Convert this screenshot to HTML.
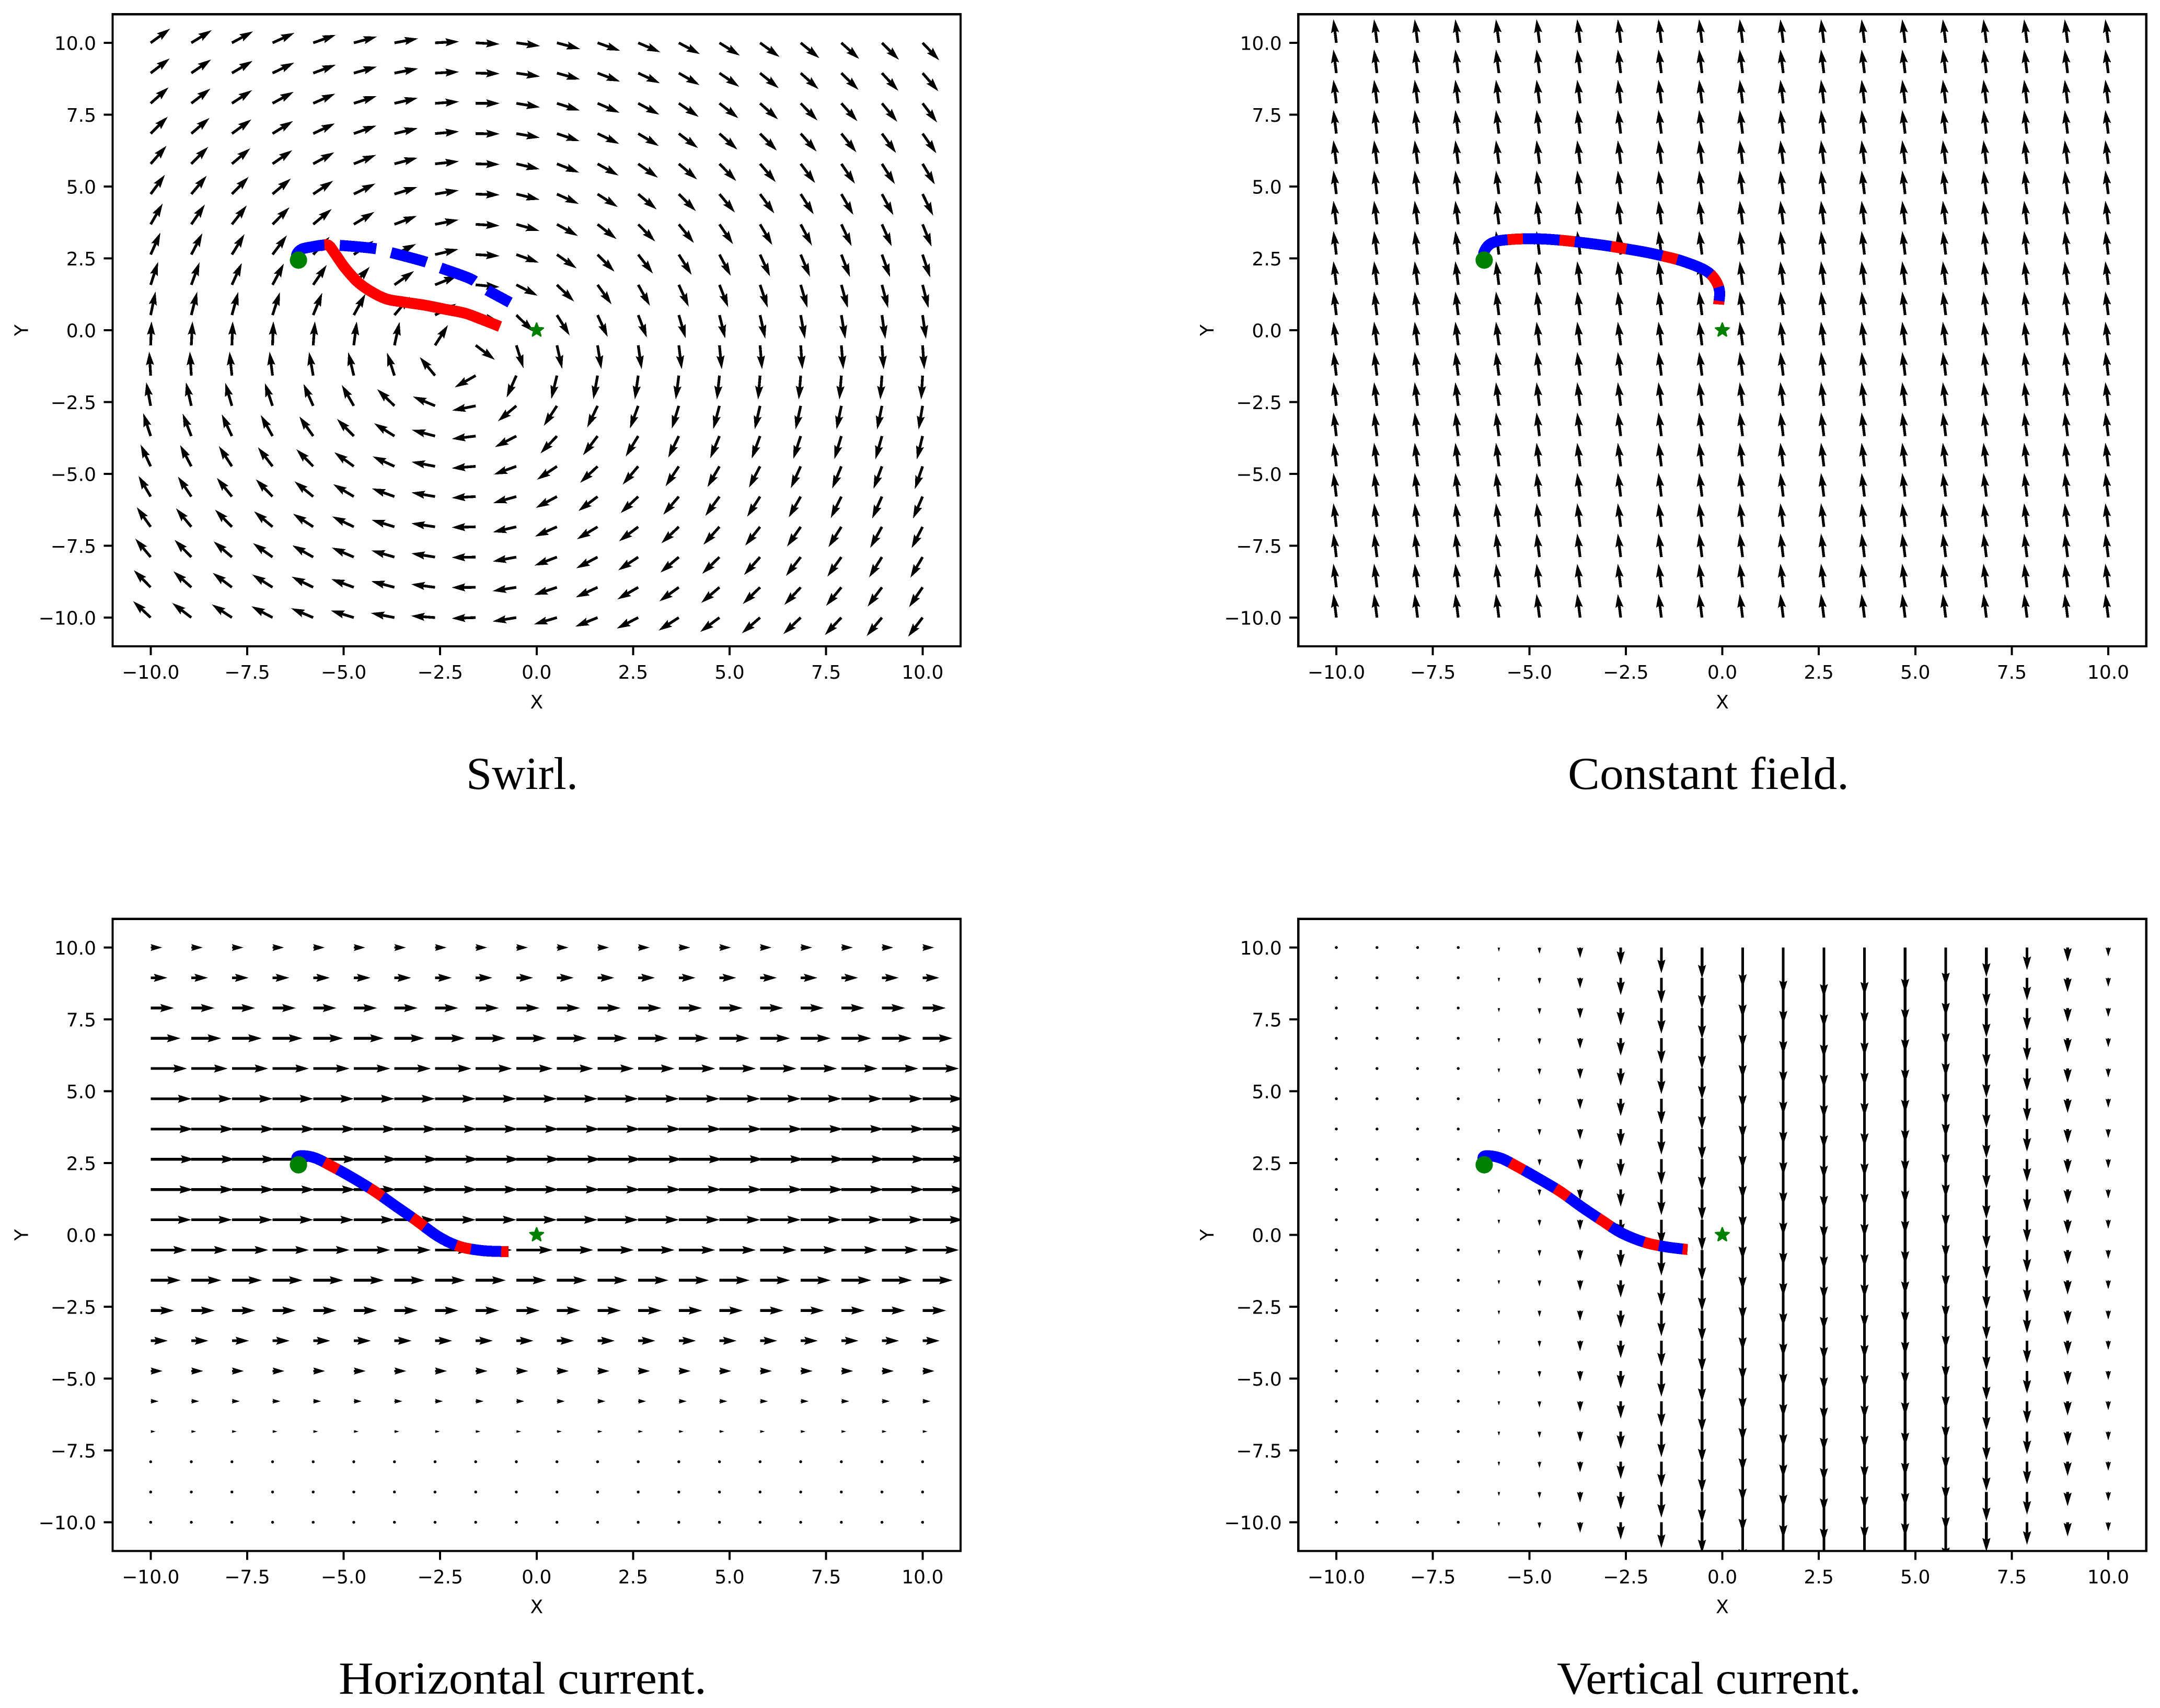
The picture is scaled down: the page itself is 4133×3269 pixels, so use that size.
<!DOCTYPE html>
<html lang="en">
<head>
<meta charset="utf-8">
<title>Trajectories in four flow fields</title>
<style>
html,body{margin:0;padding:0;background:#fff;}
svg{display:block;shape-rendering:crispEdges;}
.tick{font-family:"DejaVu Sans",sans-serif;font-size:36px;fill:#000;}
.caption{font-family:"Liberation Serif",serif;font-size:88px;fill:#000;}
</style>
</head>
<body>
<svg id="figure" xmlns="http://www.w3.org/2000/svg" width="4133" height="3269" viewBox="0 0 4133 3269">
<rect x="0" y="0" width="4133" height="3269" fill="#fff"/>
</svg>
<script>
// ---- shared axis data ----
const tickValues = [-10, -7.5, -5, -2.5, 0, 2.5, 5, 7.5, 10];
const tickLabels = ['\u221210.0', '\u22127.5', '\u22125.0', '\u22122.5', '0.0', '2.5', '5.0', '7.5', '10.0'];
const gridXCoords = [-10, -8.947, -7.895, -6.842, -5.789, -4.737, -3.684, -2.632, -1.579, -0.526, 0.526, 1.579, 2.632, 3.684, 4.737, 5.789, 6.842, 7.895, 8.947, 10];
const gridYCoords = [10, 8.947, 7.895, 6.842, 5.789, 4.737, 3.684, 2.632, 1.579, 0.526, -0.526, -1.579, -2.632, -3.684, -4.737, -5.789, -6.842, -7.895, -8.947, -10];

// ---- swirl field: arrow heading in degrees, rows from y=10 down to y=-10 ----
const swirlSpeed = 1.15;
const swirlAngles = [
[36,31.7,28.4,24.5,19.4,15,10.4,3,-3,-7.6,-14.8,-19.3,-22.9,-28,-32,-36,-39.4,-42,-44.8,-46.3],
[37.6,34.6,30.6,25.8,20.3,15.7,11,3,-1.3,-8.2,-15.3,-20.7,-25,-30,-34.6,-39,-42,-44.4,-47.3,-49],
[41.7,37.6,33.1,28.6,23.7,17.5,12.9,4,0,-9.5,-17.4,-23.1,-28.1,-34.2,-38.1,-41.7,-45.6,-48,-50.2,-52.8],
[44.7,40.7,36,31.5,25.2,19.4,12.9,5,-0.6,-9.8,-18.4,-25.4,-31,-37,-41.7,-45.4,-48.4,-51.2,-53.9,-55],
[48.7,45.2,40.2,34.6,28.6,21.8,14.7,6,-1.3,-12.9,-21.4,-29,-35,-40.4,-45.6,-49.2,-53,-55.5,-57.4,-59.2],
[53.5,50,45.7,40.2,33.6,26,17,9,-1.9,-13.5,-24.2,-32.6,-39.7,-44.9,-50,-53.6,-57.2,-59.9,-61.5,-63.8],
[60,55.6,51.8,45.2,39.7,31,20.6,11,-3.3,-15.7,-29,-37.8,-45.3,-50.9,-55.6,-59.4,-62.2,-64.6,-66,-68],
[66.1,62.5,58.4,53.3,47.3,35,26,13,-3.3,-19.7,-35,-45.3,-52.3,-57.7,-62,-65.4,-67.2,-68.8,-70.1,-71.5],
[72.1,69.9,65.6,61.9,55.8,48.6,35,22,-5.3,-26.9,-44.2,-54.4,-60.8,-65.6,-68.7,-71.4,-73.5,-74.4,-75,-75.7],
[78.3,75.9,74.6,72.2,67.9,61.1,50,28,-15,-44,-58,-65.2,-69,-73.5,-76.2,-77.5,-79.8,-80.4,-81.8,-81.8],
[88,87.2,88,88,85.8,83,77.6,57.5,-37,-72.5,-77.4,-81,-81.8,-83,-84.5,-85.2,-85.9,-85.2,-85.9,-85.9],
[93.5,93.5,95.7,97.1,99.9,103.4,107.9,129.6,-150.6,-113.9,-103.6,-100.2,-98,-97.3,-96,-94.7,-94.6,-94.6,-94,-93.3],
[100.6,102.8,106.2,108.7,113.8,119.9,136,157.1,-168.8,-140.1,-123.3,-115.6,-110.1,-107.2,-104.9,-102.9,-102.3,-101.6,-101.6,-99.6],
[108,111.1,115,119.3,125.3,134.5,147.8,165,-173.2,-152.7,-133.6,-127.2,-121.5,-116.2,-112.6,-110.4,-108,-106.8,-105.5,-103.8],
[114.9,117.8,122.8,127.6,134.6,144.2,155.5,169.2,-175.5,-160,-146.2,-136.7,-130.4,-123.6,-120.1,-117.6,-114.4,-112.4,-110.6,-108.7],
[120.4,123.8,129,134,140.9,149.1,160.2,170.2,-177,-164.3,-151.9,-143,-136.9,-130.7,-126.1,-122.6,-119.9,-116.2,-114,-113.5],
[125.3,129.6,134.5,140.1,147,154.3,163,171.6,-178.5,-167.1,-156.2,-149,-143,-136.7,-131.9,-128.3,-124.7,-122.3,-119.2,-117.3],
[129.8,134.1,139.4,144.6,150.6,156.7,163.9,171.1,-179,-169.5,-159.3,-152.2,-146.5,-140,-136,-131.8,-127.9,-125.6,-122.3,-120.6],
[134.5,138.2,143,147.8,153.7,159.9,165.2,172.6,-179.5,-171,-161.6,-155.2,-150,-144.2,-139.6,-136,-133,-129.4,-126.7,-124.3],
[137,142.6,146.7,151.9,157.1,163,169,176,-178,-170.6,-163.4,-157.9,-152.8,-147.3,-143.4,-139.2,-136.5,-133.3,-129.7,-127.2]
];

// ---- constant field ----
const constantU = -0.14;
const constantV = 1.13;

// ---- horizontal current: u per row, from y=10 down to y=-10 ----
const horizontalU = [0.55,0.8,1.11,1.43,1.74,1.95,2.03,2.1,2.03,1.95,1.74,1.44,1.12,0.82,0.57,0.38,0.23,0.05,0.03,0.02];

// ---- vertical current: downward speed per column, from x=-10 to x=10 ----
const verticalV = [0.02,0.03,0.05,0.08,0.2,0.3,0.5,0.83,1.23,1.48,1.93,2.23,2.4,2.3,2.15,1.85,1.4,1.08,0.68,0.43];

// ---- start and goal ----
const startPoint = [-6.17, 2.44];
const goalPoint = [0, 0];

// ---- trajectories ----
const swirlBlueX = [-6.17,-6.217,-6.087,-5.828,-5.508,-5.137,-4.213,-3.842,-2.934,-2.589,-1.725,-1.38,-0.689];
const swirlBlueY = [2.44,2.63,2.82,2.90,2.965,2.956,2.845,2.725,2.40,2.215,1.796,1.473,0.964];
const swirlRedX = [-5.6,-5.396,-5.222,-4.964,-4.618,-4.273,-3.885,-3.455,-2.893,-2.376,-1.855,-1.423,-0.948];
const swirlRedY = [2.94,2.956,2.66,2.167,1.658,1.333,1.084,0.982,0.869,0.731,0.591,0.378,0.127];
const constantPathX = [-6.168,-6.177,-6.038,-5.797,-5.416,-5.041,-4.678,-4.303,-3.923,-3.469,-2.998,-2.623,-2.019,-1.536,-1.051,-0.477,-0.204,-0.072,-0.096];
const constantPathY = [2.436,2.704,2.976,3.109,3.164,3.182,3.176,3.145,3.096,3.024,2.94,2.86,2.722,2.582,2.413,2.109,1.794,1.369,0.896];
const horizontalPathX = [-6.173,-6.207,-6.035,-5.723,-5.344,-4.826,-4.218,-3.652,-3.147,-2.546,-2.013,-1.441,-0.922,-0.729];
const horizontalPathY = [2.44,2.70,2.755,2.669,2.415,2.033,1.536,1.003,0.53,-0.058,-0.396,-0.542,-0.578,-0.578];
const verticalPathX = [-6.164,-6.198,-6.046,-5.714,-5.335,-4.816,-4.208,-3.643,-3.137,-2.607,-1.984,-1.431,-0.961,-0.9];
const verticalPathY = [2.44,2.70,2.755,2.658,2.396,2.004,1.518,0.973,0.518,0.064,-0.269,-0.422,-0.5,-0.505];

// ---- helpers ----
const NS = 'http://www.w3.org/2000/svg';
const figure = document.getElementById('figure');
function make(tag, parent, attrs) {
  const node = document.createElementNS(NS, tag);
  for (const key in attrs) node.setAttribute(key, attrs[key]);
  parent.appendChild(node);
  return node;
}
const PX_PER_X = 73.85;
const PX_PER_Y = 55;
const QUIVER_SCALE = 40;
const ARROW_W = 5.2;
const DASH_ON = 70;
const DASH_OFF = 29.5;

// Matplotlib-style quiver polygon, expressed in shaft widths.
function arrowPoints(tx, ty, u, v) {
  const mag = Math.hypot(u, v);
  const len = mag * QUIVER_SCALE / ARROW_W;
  const c = mag > 0 ? u / mag : 1;
  const s = mag > 0 ? v / mag : 0;
  let pts;
  if (len < 1) {
    pts = [];
    for (let k = 0; k < 8; k++) {
      pts.push([Math.cos(k * Math.PI / 4) * 0.55, Math.sin(k * Math.PI / 4) * 0.55]);
    }
  } else if (len < 5) {
    const sh = len / 5;
    pts = [[0, 0.5], [0.5, 0.5], [0, 1.5], [5, 0], [0, -1.5], [0.5, -0.5], [0, -0.5]];
    pts = pts.map(p => [p[0] * sh, p[1] * sh]);
  } else {
    pts = [[0, 0.5], [len - 4.5, 0.5], [len - 5, 1.5], [len, 0], [len - 5, -1.5], [len - 4.5, -0.5], [0, -0.5]];
  }
  return pts.map(p => {
    const sx = tx + ARROW_W * (p[0] * c - p[1] * s);
    const sy = ty - ARROW_W * (p[0] * s + p[1] * c);
    return sx.toFixed(2) + ',' + sy.toFixed(2);
  }).join(' ');
}

function smoothPath(xs, ys, sx, sy) {
  const P = xs.map((x, i) => [sx(x), sy(ys[i])]);
  let d = 'M' + P[0][0].toFixed(2) + ' ' + P[0][1].toFixed(2);
  for (let i = 0; i < P.length - 1; i++) {
    const a = P[Math.max(i - 1, 0)], b = P[i], c = P[i + 1], e = P[Math.min(i + 2, P.length - 1)];
    const c1x = b[0] + (c[0] - a[0]) / 6, c1y = b[1] + (c[1] - a[1]) / 6;
    const c2x = c[0] - (e[0] - b[0]) / 6, c2y = c[1] - (e[1] - b[1]) / 6;
    d += ' C' + c1x.toFixed(2) + ' ' + c1y.toFixed(2) + ' ' + c2x.toFixed(2) + ' ' + c2y.toFixed(2) + ' ' + c[0].toFixed(2) + ' ' + c[1].toFixed(2);
  }
  return d;
}

function starPoints(cx, cy, R) {
  const out = [];
  for (let k = 0; k < 10; k++) {
    const r = k % 2 === 0 ? R : R * 0.42;
    const a = -Math.PI / 2 + k * Math.PI / 5;
    out.push((cx + r * Math.cos(a)).toFixed(2) + ',' + (cy + r * Math.sin(a)).toFixed(2));
  }
  return out.join(' ');
}

// Dash list that stops the blue line a little before the end of the path,
// leaving the red line underneath visible as a tip.
function dashList(total, trim) {
  const stopAt = total - trim;
  const list = [];
  let pos = 0;
  while (pos < stopAt) {
    list.push(Math.min(DASH_ON, stopAt - pos));
    pos += DASH_ON;
    list.push(pos < stopAt ? DASH_OFF : 2000);
    pos += DASH_OFF;
  }
  return list.map(n => n.toFixed(2)).join(' ');
}

function drawPanel(opts) {
  const x0 = opts.x0, y0 = opts.y0;
  const sx = v => x0 + v * PX_PER_X;
  const sy = v => y0 - v * PX_PER_Y;
  const left = x0 - 811.3, right = x0 + 811.2, top = y0 - 604.7, bottom = y0 + 605;

  const g = make('g', figure, {});
  
  

  const clip = make('clipPath', g, { id: opts.name + '-clip' });
  make('rect', clip, { x: left, y: top, width: right - left, height: bottom - top });

  const field = make('g', g, { 'clip-path': 'url(#' + opts.name + '-clip)', fill: '#000' });
  
  
  gridYCoords.forEach((gy, r) => {
    gridXCoords.forEach((gx, c) => {
      const vec = opts.vector(r, c);
      const arrow = make('polygon', field, { points: arrowPoints(sx(gx), sy(gy), vec[0], vec[1]) });
      
      
    });
  });

  const traj = make('g', g, { 'clip-path': 'url(#' + opts.name + '-clip)', fill: 'none', 'stroke-width': 21, 'stroke-linecap': 'butt', 'stroke-linejoin': 'round' });
  
  
  const red = make('path', traj, { d: smoothPath(opts.redX, opts.redY, sx, sy), stroke: '#ff0000' });
  
  
  const blue = make('path', traj, { d: smoothPath(opts.blueX, opts.blueY, sx, sy), stroke: '#0000ff' });
  blue.setAttribute('stroke-dasharray', dashList(blue.getTotalLength(), opts.tailTrim));
  
  

  const startDot = make('circle', g, { cx: sx(startPoint[0]), cy: sy(startPoint[1]), r: 16.6, fill: '#008000' });
  
  
  const goal = make('polygon', g, { points: starPoints(sx(goalPoint[0]), sy(goalPoint[1]), 13.5), fill: '#008000', stroke: '#008000', 'stroke-width': 3, 'stroke-linejoin': 'round' });
  
  

  const frame = make('rect', g, { x: left, y: top, width: right - left, height: bottom - top, fill: 'none', stroke: '#000', 'stroke-width': 4.2 });
  
  

  tickValues.forEach((t, i) => {
    const xt = make('line', g, { x1: sx(t), x2: sx(t), y1: bottom, y2: bottom + 17, stroke: '#000', 'stroke-width': 4 });
    
    
    const xl = make('text', g, { x: sx(t), y: bottom + 62, 'text-anchor': 'middle', class: 'tick' });
    xl.textContent = tickLabels[i];
    
    
    const yt = make('line', g, { x1: left - 17, x2: left, y1: sy(t), y2: sy(t), stroke: '#000', 'stroke-width': 4 });
    
    
    const yl = make('text', g, { x: left - 31.5, y: sy(t) + 13.5, 'text-anchor': 'end', class: 'tick' });
    yl.textContent = tickLabels[i];
    
    
  });

  const xTitle = make('text', g, { x: x0, y: bottom + 119, 'text-anchor': 'middle', class: 'tick' });
  xTitle.textContent = 'X';
  
  
  const yTitle = make('text', g, { x: 0, y: 0, 'text-anchor': 'middle', class: 'tick', transform: 'translate(' + (left - 162) + ' ' + y0 + ') rotate(-90)' });
  yTitle.textContent = 'Y';
  
  

  const cap = make('text', g, { x: opts.capX, y: y0 + 878, 'text-anchor': 'middle', class: 'caption', textLength: opts.capW, lengthAdjust: 'spacingAndGlyphs' });
  cap.textContent = opts.caption;
  
  
}

drawPanel({
  name: 'swirl', x0: 1026.8, y0: 632, caption: 'Swirl.', capX: 999, capW: 214, tailTrim: 0,
  vector: (r, c) => [swirlSpeed * Math.cos(swirlAngles[r][c] * Math.PI / 180), swirlSpeed * Math.sin(swirlAngles[r][c] * Math.PI / 180)],
  blueX: swirlBlueX, blueY: swirlBlueY, redX: swirlRedX, redY: swirlRedY
});
drawPanel({
  name: 'constant-field', x0: 3295.5, y0: 632, caption: 'Constant field.', capX: 3269, capW: 538, tailTrim: 7,
  vector: () => [constantU, constantV],
  blueX: constantPathX, blueY: constantPathY, redX: constantPathX, redY: constantPathY
});
drawPanel({
  name: 'horizontal-current', x0: 1026.8, y0: 2363.5, caption: 'Horizontal current.', capX: 1000, capW: 704, tailTrim: 14,
  vector: (r) => [horizontalU[r], 0],
  blueX: horizontalPathX, blueY: horizontalPathY, redX: horizontalPathX, redY: horizontalPathY
});
drawPanel({
  name: 'vertical-current', x0: 3295.5, y0: 2363.5, caption: 'Vertical current.', capX: 3270, capW: 582, tailTrim: 10,
  vector: (r, c) => [0, -verticalV[c]],
  blueX: verticalPathX, blueY: verticalPathY, redX: verticalPathX, redY: verticalPathY
});
</script>
</body>
</html>
